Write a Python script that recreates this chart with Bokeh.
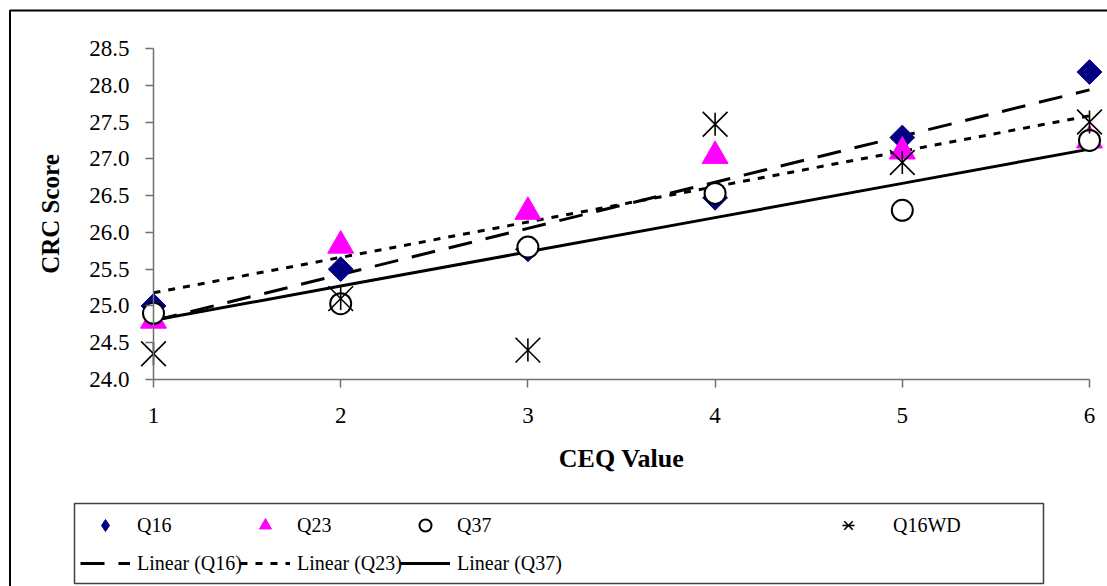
import numpy as np
from bokeh.plotting import figure
from bokeh.models import (Range1d, FixedTicker, Legend, LegendItem, BoxAnnotation,
                          NumeralTickFormatter)
from bokeh.embed import file_html
from bokeh.resources import INLINE

# ---- data ----
ceq = [1, 2, 3, 4, 5, 6]
q16 = [25.0, 25.5, 25.77, 26.47, 27.29, 28.18]
q23 = [24.8, 25.82, 26.28, 27.04, 27.1, 27.25]
q37 = [24.9, 25.03, 25.8, 26.53, 26.3, 27.25]
q16wd = [24.35, 25.1, 24.4, 27.47, 26.95, 27.5]
x_ticks = [1, 2, 3, 4, 5, 6]
y_ticks = [24.0, 24.5, 25.0, 25.5, 26.0, 26.5, 27.0, 27.5, 28.0, 28.5]
series_names = ["Q16", "Q23", "Q37", "Q16WD"]
trend_names = ["Linear (Q16)", "Linear (Q23)", "Linear (Q37)"]


def linfit(xs, ys):
    k, b = np.polyfit(xs, ys, 1)
    return [k * x + b for x in xs]


FONT = "Liberation Serif"
NAVY, MAGENTA = "#000080", "#FF00FF"
W, H = 1107, 586
# pixel placement of the plotting area inside the canvas
PX_LEFT, PX_RIGHT, PX_TOP, PX_BOTTOM = 153, 1089, 48, 379
X0, X1 = x_ticks[0], x_ticks[-1]
Y0, Y1 = y_ticks[0], y_ticks[-1]
sx = (PX_RIGHT - PX_LEFT) / (X1 - X0)
sy = (PX_BOTTOM - PX_TOP) / (Y1 - Y0)
x_range = Range1d(X0 - PX_LEFT / sx, X1 + (W - PX_RIGHT) / sx)
y_range = Range1d(Y0 - (H - PX_BOTTOM) / sy, Y1 + PX_TOP / sy)

p = figure(width=W, height=H, x_range=x_range, y_range=y_range, title=None,
           output_backend="svg", toolbar_location=None,
           min_border_left=0, min_border_right=0, min_border_top=0, min_border_bottom=0)
p.outline_line_color = None
p.grid.visible = False
p.background_fill_color = "white"
p.border_fill_color = "white"

for ax in (p.xaxis[0], p.yaxis[0]):
    ax.axis_line_color = "#707070"
    ax.axis_line_width = 1.5
    ax.major_tick_line_color = "#707070"
    ax.major_tick_line_width = 1.5
    ax.major_tick_in = 0
    ax.major_tick_out = 8
    ax.minor_tick_line_color = None
    ax.major_label_text_font = FONT
    ax.major_label_text_font_size = "23px"
    ax.major_label_text_color = "black"
    ax.axis_label_text_font = FONT
    ax.axis_label_text_font_style = "bold"
    ax.axis_label_text_color = "black"

p.xaxis.fixed_location = Y0
p.yaxis.fixed_location = X0
p.xaxis.bounds = (X0, X1)
p.yaxis.bounds = (Y0, Y1)
p.xaxis.ticker = FixedTicker(ticks=x_ticks)
p.yaxis.ticker = FixedTicker(ticks=y_ticks)
p.yaxis.formatter = NumeralTickFormatter(format="0.0")
p.xaxis.axis_label = "CEQ Value"
p.yaxis.axis_label = "CRC Score"
p.xaxis.axis_label_text_font_size = "26px"
p.yaxis.axis_label_text_font_size = "25px"
p.xaxis.major_label_standoff = 20
p.yaxis.major_label_standoff = 16
p.xaxis.axis_label_standoff = 18
p.yaxis.axis_label_standoff = 22

# trend lines
l16 = p.line(ceq, linfit(ceq, q16), line_color="black", line_width=3, line_dash="24 14")
l23 = p.line(ceq, linfit(ceq, q23), line_color="black", line_width=3, line_dash="7 8")
l37 = p.line(ceq, linfit(ceq, q37), line_color="black", line_width=3)

# markers
r16 = p.scatter(ceq, q16, marker="square", angle=np.pi / 4, size=17.5,
                fill_color=NAVY, line_color=NAVY)
r23 = p.scatter(ceq, q23, marker="triangle", size=26,
                fill_color=MAGENTA, line_color=MAGENTA)
r37 = p.scatter(ceq, q37, marker="circle", size=21, fill_color="white",
                line_color="black", line_width=2)
rwd_x = p.scatter(ceq, q16wd, marker="x", size=35, line_color="black", line_width=1.6)
rwd_v = p.scatter(ceq, q16wd, marker="dash", angle=np.pi / 2, size=23, line_color="black",
                  line_width=1.6)
# legend swatch for Q16 (diamond shape, as in the reference legend); not drawn in the plot
r16_key = p.scatter(x=[np.nan], y=[np.nan], marker="diamond", fill_color=NAVY, line_color=NAVY)

# outer chart border (left/top visible) and legend box; screen units, y measured from bottom
p.add_layout(BoxAnnotation(left=9.5, right=3000, top=H - 10, bottom=-3000,
                           left_units="screen", right_units="screen",
                           top_units="screen", bottom_units="screen",
                           fill_color=None, line_color="black", line_alpha=1.0, line_width=2))
p.add_layout(BoxAnnotation(left=74, right=1043, top=H - 503, bottom=H - 583,
                           left_units="screen", right_units="screen",
                           top_units="screen", bottom_units="screen",
                           fill_color=None, line_color="#404040", line_alpha=1.0, line_width=1.5))


def add_legend(items, loc, standoff):
    lg = Legend(items=items, location=loc, orientation="vertical",
                glyph_width=50, glyph_height=30, label_height=30, spacing=8,
                padding=0, margin=0, label_standoff=standoff,
                border_line_color=None, background_fill_alpha=0,
                label_text_font=FONT, label_text_font_size="20px", label_text_color="black")
    p.add_layout(lg)


add_legend([LegendItem(label=series_names[0], renderers=[r16_key]),
            LegendItem(label=trend_names[0], renderers=[l16])], (80, 8), 7)
add_legend([LegendItem(label=series_names[1], renderers=[r23]),
            LegendItem(label=trend_names[1], renderers=[l23])], (240, 8), 7)
add_legend([LegendItem(label=series_names[2], renderers=[r37]),
            LegendItem(label=trend_names[2], renderers=[l37])], (400, 8), 7)
add_legend([LegendItem(label=series_names[3], renderers=[rwd_x, rwd_v])], (823, 46), 20)

open("out.html", "w").write(file_html(p, INLINE))
